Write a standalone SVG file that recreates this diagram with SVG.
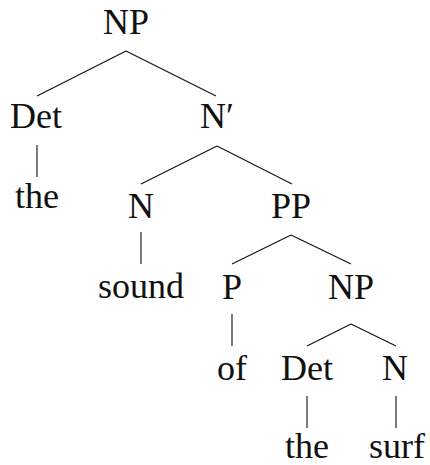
<svg xmlns="http://www.w3.org/2000/svg" width="430" height="465" viewBox="0 0 430 465">
<style>
text{font-family:"Liberation Serif","DejaVu Serif",serif;font-size:36px;fill:#111;text-anchor:middle}
line{stroke:#111;stroke-width:1.1}
</style>
<rect width="430" height="465" fill="#fff"/>
<g id="connectors">
<line x1="126" y1="51" x2="37" y2="96"/>
<line x1="126" y1="51" x2="216" y2="96"/>
<line x1="37" y1="145" x2="37" y2="177"/>
<line x1="217" y1="146" x2="141" y2="184"/>
<line x1="217" y1="146" x2="292" y2="184"/>
<line x1="141" y1="232" x2="141" y2="264"/>
<line x1="291" y1="235" x2="232" y2="264"/>
<line x1="291" y1="235" x2="351" y2="264"/>
<line x1="232" y1="314" x2="232" y2="346"/>
<line x1="351" y1="324" x2="307" y2="346"/>
<line x1="351" y1="324" x2="396" y2="346"/>
<line x1="307" y1="396" x2="307" y2="428"/>
<line x1="396" y1="396" x2="396" y2="428"/>
</g>
<g id="np1"><text x="126" y="34">NP</text></g>
<g id="det1"><text x="36" y="128">Det</text></g>
<g id="nbar"><text x="217" y="128">N′</text></g>
<g id="the1"><text x="37" y="208">the</text></g>
<g id="n1"><text x="141" y="218">N</text></g>
<g id="pp"><text x="291" y="218">PP</text></g>
<g id="sound"><text x="141" y="298">sound</text></g>
<g id="p"><text x="232" y="299">P</text></g>
<g id="np2"><text x="351" y="299">NP</text></g>
<g id="of"><text x="232" y="380">of</text></g>
<g id="det2"><text x="307" y="380">Det</text></g>
<g id="n2"><text x="395" y="380">N</text></g>
<g id="the2"><text x="307" y="458">the</text></g>
<g id="surf"><text x="397" y="458">surf</text></g>
</svg>
